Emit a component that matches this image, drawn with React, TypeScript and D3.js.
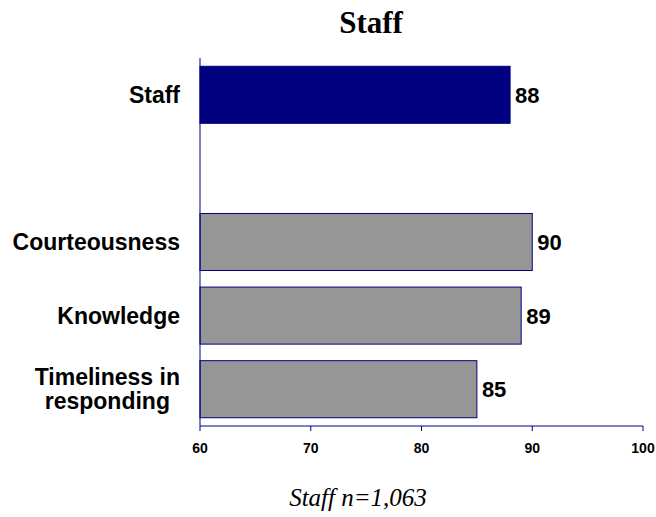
import React from "react";
import * as d3 from "d3";

// Satisfaction scores by staff attribute
const categories = ["Staff", "", "Courteousness", "Knowledge", "Timeliness in responding"];
const labelLines: string[][] = [["Staff"], [], ["Courteousness"], ["Knowledge"], ["Timeliness in", "responding"]];
const values: (number | null)[] = [88, null, 90, 89, 85];
const highlight = [true, false, false, false, false];
const xTicks = [60, 70, 80, 90, 100];
const title = "Staff";
const footnote = "Staff n=1,063";

const W = 656;
const H = 517;
const left = 200;
const right = 643;
const top = 58;
const bottom = 426;

const NAVY = "#000080";
const GREY = "#969696";
const LABEL_FONT = "bold 23px 'Liberation Sans', Arial, sans-serif";

function measure(text: string, font: string): number {
  const c = document.createElement("canvas").getContext("2d");
  if (!c) return text.length * 12;
  c.font = font;
  return c.measureText(text).width;
}

export default function App() {
  const x = d3.scaleLinear().domain([60, 100]).range([left, right]);
  const y = d3
    .scaleBand<string>()
    .domain(categories)
    .range([top, bottom])
    .paddingInner(0.225)
    .paddingOuter(0.1125);

  return (
    <svg
      width={W}
      height={H}
      viewBox={`0 0 ${W} ${H}`}
      style={{ position: "absolute", left: 0, top: 0, background: "#fff" }}
    >
      <text
        x={371}
        y={33}
        textAnchor="middle"
        fontFamily="'Liberation Serif', 'Times New Roman', serif"
        fontWeight="bold"
        fontSize={31}
        fill="#000"
      >
        {title}
      </text>

      {categories.map((c, i) => {
        const v = values[i];
        if (v == null) return null;
        const y0 = y(c)!;
        const bw = y.bandwidth();
        return (
          <g key={c}>
            <rect
              x={x(60)}
              y={y0}
              width={x(v) - x(60)}
              height={bw}
              fill={highlight[i] ? NAVY : GREY}
              stroke={NAVY}
              strokeWidth={1}
            />
            <text
              x={x(v) + 5}
              y={y0 + bw / 2}
              dy="0.36em"
              fontFamily="'Liberation Sans', Arial, sans-serif"
              fontWeight="bold"
              fontSize={22}
              fill="#000"
            >
              {v}
            </text>
          </g>
        );
      })}

      {/* category labels, multi-line labels centred on their widest line */}
      {categories.map((c, i) => {
        const lines = labelLines[i];
        if (!lines.length) return null;
        const cy = y(c)! + y.bandwidth() / 2;
        const lh = 24;
        const widths = lines.map((l) => measure(l, LABEL_FONT));
        const maxW = Math.max(...widths);
        const xr = left - 20;
        return (
          <g key={"lab" + i}>
            {lines.map((l, j) => (
              <text
                key={j}
                x={lines.length > 1 ? xr - maxW / 2 : xr}
                y={cy + (j - (lines.length - 1) / 2) * lh}
                dy="0.36em"
                textAnchor={lines.length > 1 ? "middle" : "end"}
                fontFamily="'Liberation Sans', Arial, sans-serif"
                fontWeight="bold"
                fontSize={23}
                fill="#000"
              >
                {l}
              </text>
            ))}
          </g>
        );
      })}

      {/* axes */}
      <line x1={left} x2={left} y1={top} y2={bottom} stroke={NAVY} strokeWidth={1} />
      <line x1={left} x2={right} y1={bottom} y2={bottom} stroke={NAVY} strokeWidth={1} />
      {xTicks.map((t) => (
        <g key={t}>
          <line x1={x(t)} x2={x(t)} y1={bottom} y2={bottom + 5} stroke={NAVY} strokeWidth={1} />
          <text
            x={x(t)}
            y={453}
            textAnchor="middle"
            fontFamily="'Liberation Sans', Arial, sans-serif"
            fontWeight="bold"
            fontSize={14}
            fill="#000"
          >
            {t}
          </text>
        </g>
      ))}

      <text
        x={358}
        y={506}
        textAnchor="middle"
        fontFamily="'Liberation Serif', 'Times New Roman', serif"
        fontStyle="italic"
        fontSize={25}
        fill="#000"
      >
        {footnote}
      </text>
    </svg>
  );
}
